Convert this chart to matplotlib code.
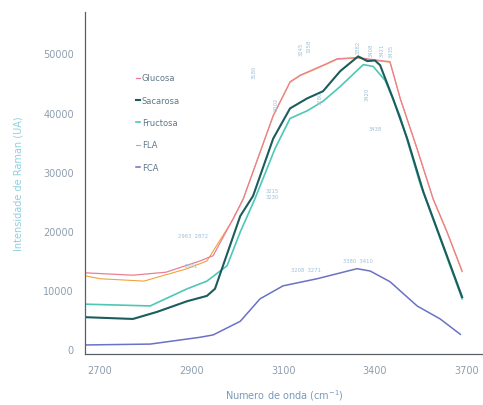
import numpy as np
import matplotlib.pyplot as plt

# Espectros Raman (regiao de estiramento O-H / C-H)
wn_glu = [2659, 2790, 2880, 2973, 3009, 3063, 3091, 3173, 3219, 3246, 3309, 3348,
          3402, 3465, 3492, 3520, 3566, 3610, 3648, 3689]
glucosa = [12900, 12500, 13000, 14900, 15800, 22000, 25400, 39500, 45200, 46300, 48000, 49100,
           49300, 48800, 48600, 42400, 33900, 25400, 19800, 13200]

wn_sac = [2659, 2790, 2856, 2938, 2992, 3014, 3083, 3118, 3173, 3219, 3266, 3309,
          3356, 3405, 3430, 3451, 3465, 3500, 3539, 3583, 3689]
sacarosa = [5400, 5100, 6300, 8100, 9000, 10200, 22500, 25900, 35600, 40700, 42400, 43600,
            47000, 49500, 48700, 48800, 48000, 42400, 35600, 26600, 8800]

wn_fru = [2659, 2837, 2938, 2992, 3047, 3083, 3123, 3178, 3219, 3266, 3309, 3356,
          3419, 3446, 3479, 3520, 3574, 3689]
frutose = [7600, 7300, 10200, 11500, 14100, 19800, 25400, 33900, 39000, 40300, 41900, 44400,
           48100, 47800, 45400, 39300, 28000, 8500]

wn_fla = [2659, 2700, 2820, 2938, 2992, 3063, 3091, 3173, 3219, 3246, 3309, 3348,
          3402, 3465, 3492, 3520, 3566, 3610, 3648, 3689]
fla = [12400, 11900, 11500, 13600, 14900, 21900, 25300, 39400, 45100, 46200, 47900, 49000,
       49200, 48700, 48500, 42300, 33800, 25300, 19700, 13100]

wn_fca = [2659, 2837, 2973, 3009, 3083, 3137, 3200, 3293, 3402, 3438, 3492, 3566, 3629, 3684]
fca = [700, 850, 2000, 2400, 4700, 8500, 10700, 11900, 13600, 13200, 11400, 7300, 5100, 2500]

x_ticks = [2700, 2950, 3200, 3450, 3700]
x_ticklabels = ['2700', '2900', '3100', '3400', '3700']
y_ticks = [0, 10000, 20000, 30000, 40000, 50000]

fig = plt.figure(figsize=(4.83, 4.06), dpi=100)
ax = fig.add_axes([0.176, 0.126, 0.824, 0.842])

ax.plot(wn_fla, fla, color='#f2a23a', lw=0.8, label='FLA')
ax.plot(wn_glu, glucosa, color='#ea7f95', lw=0.9, label='Glucosa')
ax.plot(wn_fru, frutose, color='#4cc8b4', lw=1.2, label='Fructosa')
ax.plot(wn_sac, sacarosa, color='#1d5c5c', lw=1.5, label='Sacarosa')
ax.plot(wn_fca, fca, color='#6a72c4', lw=1.1, label='FCA')

# picos marcados
txt = dict(fontsize=3.8, color='#9cc0d8', ha='center', va='center')
ax.text(2955, 19200, '2963  2872', **txt)
ax.text(2950, 14200, '2941', **txt)
ax.text(3262, 13500, '3208  3271', **txt)
ax.text(3405, 14900, '3380  3410', **txt)
ax.text(3452, 37300, '3438', **txt)
ax.text(3170, 26300, '3215\n3230', **txt)
for xp, yp, s in [(3120, 47000, '3180'), (3250, 50800, '3245'), (3272, 51300, '3258'),
                  (3405, 51200, '3382'), (3440, 50700, '3408'), (3470, 50700, '3421'),
                  (3495, 50500, '3435'), (3180, 41600, '3202'), (3300, 42600, '3280'),
                  (3430, 43200, '3420')]:
    ax.text(xp, yp, s, rotation=90, **txt)

ax.set_xlim(2659, 3746)
ax.set_ylim(-800, 57000)
ax.set_xticks(x_ticks)
ax.set_xticklabels(x_ticklabels)
ax.set_yticks(y_ticks)
ax.set_yticklabels([str(v) for v in y_ticks])
ax.tick_params(length=0, labelsize=7, colors='#8e9eae', pad=8)
ax.tick_params(axis='x', pad=8)

for side in ['top', 'right']:
    ax.spines[side].set_visible(False)
for side in ['left', 'bottom']:
    ax.spines[side].set_color('#5a6068')
    ax.spines[side].set_linewidth(0.9)

ax.set_ylabel('Intensidade de Raman (UA)', fontsize=7, color='#8fd0e0', labelpad=14)
ax.set_xlabel('Numero de onda (cm$^{-1}$)', fontsize=7, color='#7a9ab8', labelpad=9)

handles, labels = ax.get_legend_handles_labels()
order = ['Glucosa', 'Sacarosa', 'Fructosa', 'FLA', 'FCA']
hmap = dict(zip(labels, handles))
leg = ax.legend([hmap[k] for k in order], order, loc='upper left', bbox_to_anchor=(0.12, 0.83),
                frameon=False, fontsize=6, handlelength=0.5, handletextpad=0.2,
                labelspacing=1.6, borderaxespad=0)
for t in leg.get_texts():
    t.set_color('#607888')

fig.savefig('out.png', dpi=100)
